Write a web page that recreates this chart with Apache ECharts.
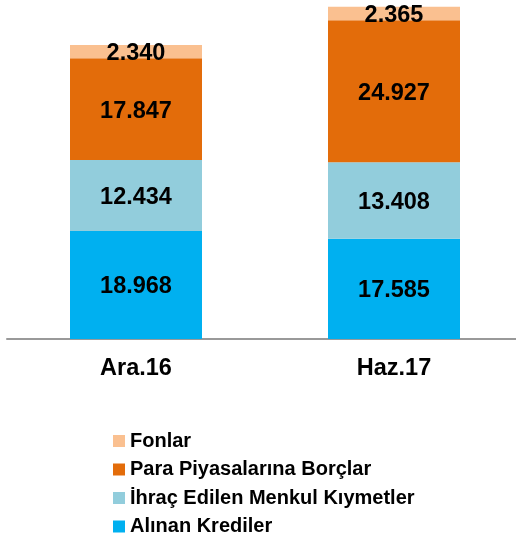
<!DOCTYPE html>
<html>
<head>
<meta charset="utf-8">
<script src="https://cdn.jsdelivr.net/npm/echarts@6/dist/echarts.min.js"></script>
<style>
  html, body { margin: 0; padding: 0; background: #fff; }
  #main { width: 516px; height: 540px; }
</style>
</head>
<body>
<div id="main"></div>
<script>
// data
var categories = ['Ara.16', 'Haz.17'];
var alinanKrediler = [18968, 17585];
var ihracMenkul = [12434, 13408];
var paraPiyasalari = [17847, 24927];
var fonlar = [2340, 2365];

var names = ['Alınan Krediler', 'İhraç Edilen Menkul Kıymetler', 'Para Piyasalarına Borçlar', 'Fonlar'];
var colors = ['#00B0F0', '#92CDDC', '#E36C0A', '#FAC090'];
var values = [alinanKrediler, ihracMenkul, paraPiyasalari, fonlar];

function fmt(v) {
  return String(v).replace(/\B(?=(\d{3})+(?!\d))/g, '.');
}

var FONT = '"Liberation Sans", Arial, sans-serif';

var series = names.map(function (n, i) {
  return {
    name: n,
    type: 'bar',
    stack: 'total',
    barWidth: 132,
    data: values[i],
    itemStyle: { color: colors[i] },
    label: {
      show: true,
      position: 'inside',
      offset: [0, 2],
      formatter: function (p) { return fmt(p.value); },
      color: '#000',
      fontSize: 23.5,
      fontWeight: 'bold',
      fontFamily: FONT
    }
  };
});

var chart = echarts.init(document.getElementById('main'));
chart.setOption({
  animation: false,
  grid: { left: 7, width: 516, top: -3, bottom: 201, outerBoundsMode: 'none', containLabel: false },
  xAxis: {
    type: 'category',
    data: categories,
    axisLine: { lineStyle: { color: '#999', width: 2 } },
    axisTick: { show: false },
    axisLabel: { color: '#000', fontSize: 23.5, fontWeight: 'bold', fontFamily: FONT, margin: 18 }
  },
  yAxis: {
    type: 'value',
    min: 0,
    max: 60000,
    show: false,
    splitLine: { show: false }
  },
  legend: {
    orient: 'vertical',
    left: 113,
    top: 431,
    padding: 0,
    itemWidth: 12,
    itemHeight: 12,
    itemGap: 8.5,
    icon: 'rect',
    data: ['Fonlar', 'Para Piyasalarına Borçlar', 'İhraç Edilen Menkul Kıymetler', 'Alınan Krediler'],
    textStyle: { color: '#000', fontSize: 20, fontWeight: 'bold', fontFamily: FONT }
  },
  series: series
});
</script>
</body>
</html>
